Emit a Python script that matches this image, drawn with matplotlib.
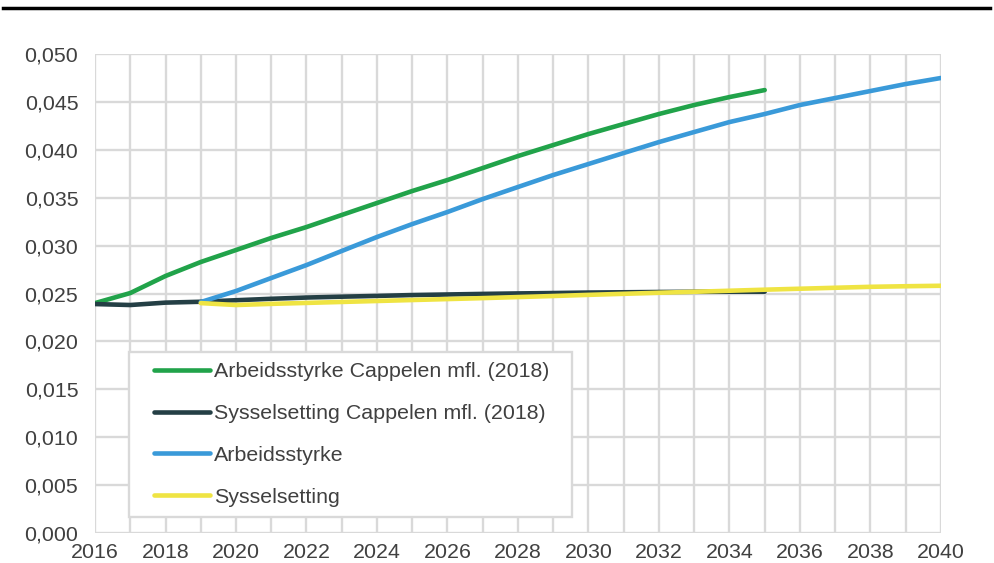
import matplotlib.pyplot as plt
from matplotlib.lines import Line2D
from matplotlib.patches import Rectangle
from matplotlib.ticker import FuncFormatter, MultipleLocator

plt.rcParams['font.family'] = ['Liberation Sans', 'DejaVu Sans']

# data
years_cap = list(range(2016, 2036))
arb_cap = [0.0240, 0.02505, 0.02683, 0.02829, 0.02954, 0.0308, 0.03194, 0.0332,
           0.03445, 0.0357, 0.03685, 0.0381, 0.03935, 0.0405, 0.04165, 0.0427,
           0.04374, 0.04468, 0.04551, 0.04624]
sys_cap = [0.0239, 0.0238, 0.02405, 0.02414, 0.02430, 0.02445, 0.02458, 0.02467,
           0.02475, 0.02484, 0.02490, 0.02496, 0.02501, 0.02505, 0.02510, 0.02513,
           0.02516, 0.02518, 0.02519, 0.02519]

years_new = list(range(2019, 2041))
arb_new = [0.02411, 0.02526, 0.02662, 0.02797, 0.02944, 0.0309, 0.03225, 0.03351,
           0.03486, 0.03612, 0.03737, 0.03852, 0.03967, 0.04081, 0.04186, 0.0429,
           0.04374, 0.04468, 0.04541, 0.04614, 0.04687, 0.0475]
sys_new = [0.0240, 0.0238, 0.02392, 0.02402, 0.02412, 0.02422, 0.02432, 0.02442,
           0.02452, 0.02463, 0.02474, 0.02486, 0.02497, 0.02508, 0.02518, 0.02529,
           0.02540, 0.02550, 0.02560, 0.02570, 0.02576, 0.02581]

labels = ['Arbeidsstyrke Cappelen mfl. (2018)', 'Sysselsetting Cappelen mfl. (2018)',
          'Arbeidsstyrke', 'Sysselsetting']
colors = ['#21a34a', '#243f45', '#3a9ad9', '#efe443']

fig = plt.figure(figsize=(9.94, 5.63), dpi=100)
ax = fig.add_axes([0.0956, 0.0533, 0.851, 0.8507])

lw = 3.3
ax.plot(years_cap, arb_cap, color=colors[0], lw=lw, label=labels[0], solid_capstyle='round')
ax.plot(years_cap, sys_cap, color=colors[1], lw=lw, label=labels[1], solid_capstyle='round')
ax.plot(years_new, arb_new, color=colors[2], lw=lw, label=labels[2], solid_capstyle='round')
ax.plot(years_new, sys_new, color=colors[3], lw=lw, label=labels[3], solid_capstyle='round')

ax.set_xlim(2016, 2040)
ax.set_ylim(0, 0.05)
ax.xaxis.set_major_locator(MultipleLocator(2))
ax.xaxis.set_minor_locator(MultipleLocator(1))
ax.yaxis.set_major_locator(MultipleLocator(0.005))
ax.yaxis.set_major_formatter(FuncFormatter(lambda v, p: f'{v:.3f}'.replace('.', ',')))
ax.grid(which='both', color='#d9d9d9', lw=1.7)
ax.set_axisbelow(True)
for s in ax.spines.values():
    s.set_visible(False)
ax.tick_params(which='both', length=0, labelsize=15.4, colors='#404040')
ax.tick_params(axis='y', pad=12)
ax.tick_params(axis='x', pad=7)

# legend frame drawn separately (wider side padding than top/bottom)
ax.add_patch(Rectangle((0.0402, 0.0334), 0.5236, 0.3445, transform=ax.transAxes,
                       facecolor='white', edgecolor='#d9d9d9', lw=1.7, zorder=4))
leg = ax.legend(loc='center left', bbox_to_anchor=(0.0697, 0.2056), fontsize=15.4,
                frameon=False, handlelength=2.6, handletextpad=0.2,
                labelspacing=1.07, borderpad=0, borderaxespad=0)
leg.set_zorder(5)
for t in leg.get_texts():
    t.set_color('#404040')

# thick rule at the top of the figure
fig.add_artist(Line2D([0.003, 0.996], [0.986, 0.986], color='black', lw=2.5,
                      transform=fig.transFigure))

fig.savefig('out.png', dpi=100)
